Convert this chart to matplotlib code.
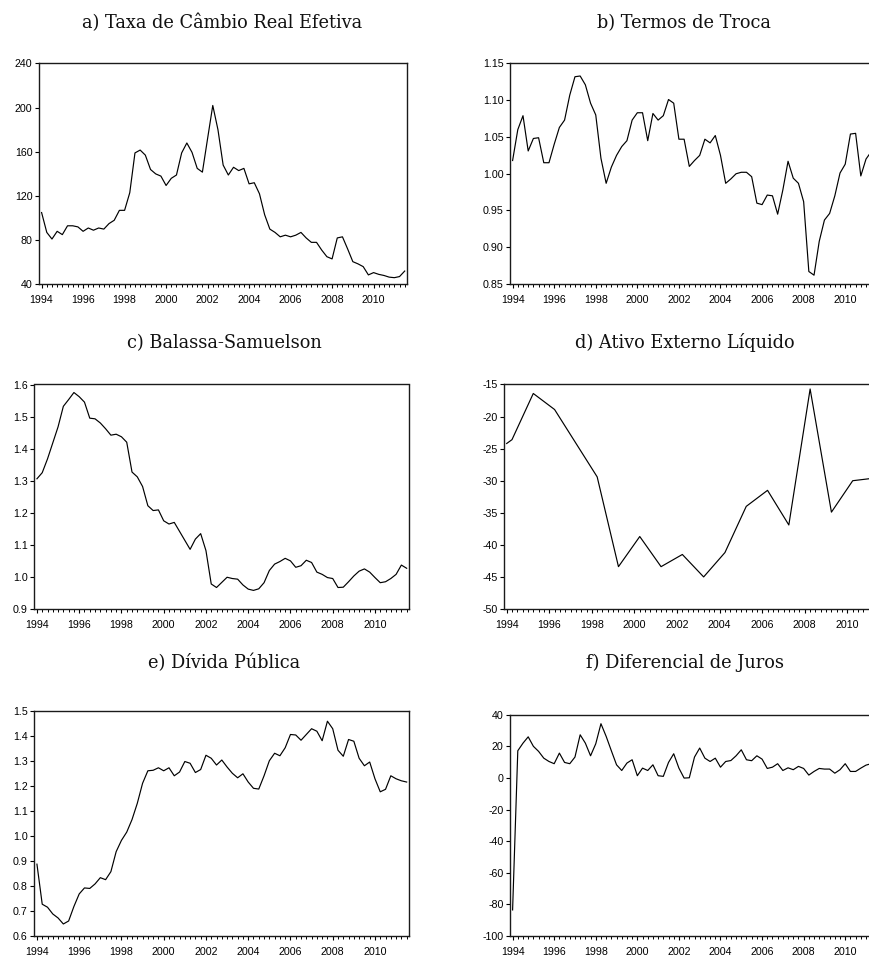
import numpy as np
import matplotlib
matplotlib.use("Agg")
import matplotlib.pyplot as plt
from matplotlib.ticker import FixedLocator, MultipleLocator, FormatStrFormatter

plt.rcParams["axes.unicode_minus"] = False

# Quarterly sample 1994Q1 - 2011Q3
START_YEAR = 1994
N_QUARTERS = 71

titles = [
    "a) Taxa de Câmbio Real Efetiva",
    "b) Termos de Troca",
    "c) Balassa-Samuelson",
    "d) Ativo Externo Líquido",
    "e) Dívida Pública",
    "f) Diferencial de Juros",
]

cambio_real = [
    105, 87, 81, 88, 85, 93, 93, 92, 88, 91, 89, 91, 90, 95, 98, 107, 107, 123,
    159, 161.6, 157, 144, 140, 138, 129.5, 136, 139, 159, 168, 159.5, 145, 141.6,
    172, 202, 180, 148, 139, 146, 143, 145, 131, 132, 122, 103, 90, 87, 83, 84.5,
    83, 84.5, 87, 82, 78, 78, 71, 65, 63, 82, 83, 72, 60.5, 58.5, 56, 48.5, 50.6,
    49, 48, 46.5, 46, 47, 52,
]

termos_troca = [
    1.018, 1.060, 1.079, 1.031, 1.048, 1.049, 1.015, 1.015, 1.040, 1.063, 1.073,
    1.107, 1.132, 1.133, 1.121, 1.096, 1.080, 1.021, 0.987, 1.009, 1.025, 1.037,
    1.045, 1.073, 1.083, 1.083, 1.045, 1.082, 1.073, 1.079, 1.101, 1.096, 1.047,
    1.047, 1.010, 1.018, 1.025, 1.047, 1.042, 1.052, 1.025, 0.987, 0.993, 1.000,
    1.002, 1.002, 0.996, 0.960, 0.958, 0.971, 0.970, 0.945, 0.978, 1.017, 0.994,
    0.987, 0.962, 0.867, 0.862, 0.908, 0.937, 0.946, 0.970, 1.001, 1.013, 1.054,
    1.055, 0.997, 1.020, 1.030, 1.035,
]

balassa_samuelson = [
    1.306, 1.325, 1.368, 1.418, 1.468, 1.532, 1.553, 1.575, 1.562, 1.545, 1.495,
    1.493, 1.480, 1.462, 1.442, 1.445, 1.437, 1.420, 1.327, 1.312, 1.282, 1.222,
    1.207, 1.209, 1.175, 1.165, 1.170, 1.142, 1.114, 1.086, 1.118, 1.135, 1.082,
    0.978, 0.967, 0.983, 0.999, 0.995, 0.993, 0.975, 0.962, 0.958, 0.963, 0.982,
    1.020, 1.040, 1.048, 1.058, 1.050, 1.030, 1.035, 1.052, 1.045, 1.015, 1.008,
    0.998, 0.995, 0.967, 0.968, 0.985, 1.003, 1.018, 1.025, 1.015, 0.998, 0.982,
    0.985, 0.995, 1.008, 1.037, 1.027,
]

# Net foreign assets: annual observations placed at the second quarter
ativo_quarters = [0, 1, 5, 9, 17, 21, 25, 29, 33, 37, 41, 45, 49, 53, 57, 61, 65, 69]
ativo_externo = [
    -24.2, -23.6, -16.4, -18.9, -29.4, -43.4, -38.7, -43.4, -41.5, -45.0, -41.2,
    -34.0, -31.5, -36.9, -15.7, -34.9, -30.0, -29.6,
]

divida_publica = [
    0.887, 0.727, 0.715, 0.688, 0.672, 0.648, 0.660, 0.718, 0.768, 0.792, 0.790,
    0.808, 0.833, 0.825, 0.857, 0.937, 0.982, 1.015, 1.065, 1.130, 1.210, 1.260,
    1.262, 1.272, 1.260, 1.272, 1.240, 1.255, 1.297, 1.290, 1.253, 1.265, 1.322,
    1.310, 1.283, 1.303, 1.275, 1.250, 1.232, 1.248, 1.215, 1.190, 1.187, 1.240,
    1.300, 1.330, 1.320, 1.352, 1.405, 1.403, 1.382, 1.405, 1.428, 1.418, 1.380,
    1.458, 1.428, 1.342, 1.318, 1.385, 1.378, 1.310, 1.280, 1.295, 1.228, 1.176,
    1.186, 1.240, 1.228, 1.220, 1.215,
]

diferencial_juros = [
    -83.5, 17.2, 22, 26, 20, 16.8, 12.5, 10.4, 9, 15.7, 9.8, 9, 13.2, 27.3, 22,
    14, 21.6, 34.3, 26.3, 17.2, 8.3, 4.7, 9.4, 11.5, 1.4, 6.2, 4.7, 8.3, 1.4, 1,
    9.8, 15.3, 6.2, -0.1, 0.1, 13.2, 18.9, 12.5, 10.4, 12.5, 6.8, 10.4, 11, 14,
    17.8, 11.5, 10.9, 14, 11.9, 6, 6.8, 9, 4.7, 6.4, 5.2, 7.3, 6, 1.8, 4.1, 6,
    5.6, 5.6, 3, 5.2, 9, 4.1, 4.1, 6.2, 8.1, 9, 9,
]

y_ranges = [(40, 240, 40, "%d"), (0.85, 1.15, 0.05, "%.2f"), (0.9, 1.6, 0.1, "%.1f"),
            (-50, -15, 5, "%d"), (0.6, 1.5, 0.1, "%.1f"), (-100, 40, 20, "%d")]

# axes boxes in pixels: left, right, top, bottom
W, H = 870, 955
boxes = [
    (39.0, 407.3, 63.5, 284.3),
    (510.0, 879.0, 63.5, 284.0),
    (34.3, 409.3, 384.5, 609.0),
    (504.0, 882.0, 384.5, 609.0),
    (34.3, 409.3, 710.7, 936.0),
    (510.0, 879.0, 714.7, 936.0),
]
# title centre x and baseline y, in pixels
title_pos = [(222, 28), (684, 28), (224, 348), (685, 348), (224, 668), (685, 668)]

t = START_YEAR + np.arange(N_QUARTERS) / 4.0
series = [
    (t, cambio_real),
    (t, termos_troca),
    (t, balassa_samuelson),
    (START_YEAR + np.array(ativo_quarters) / 4.0, ativo_externo),
    (t, divida_publica),
    (t, diferencial_juros),
]

fig = plt.figure(figsize=(W / 100, H / 100), dpi=100)

for k in range(6):
    L, R, T, B = boxes[k]
    ax = fig.add_axes([L / W, 1 - B / H, (R - L) / W, (B - T) / H])
    x, y = series[k]
    ax.plot(x, y, color="black", lw=0.85)
    ax.set_xlim(START_YEAR - 0.125, START_YEAR + (N_QUARTERS - 0.5) / 4.0)
    lo, hi, step, fmt = y_ranges[k]
    ax.set_ylim(lo, hi)
    ax.yaxis.set_major_locator(MultipleLocator(step))
    ax.yaxis.set_major_formatter(FormatStrFormatter(fmt))
    ax.xaxis.set_major_locator(FixedLocator(np.arange(1994, 2012, 2)))
    ax.xaxis.set_minor_locator(MultipleLocator(0.25))
    ax.xaxis.set_major_formatter(FormatStrFormatter("%d"))
    for s in ax.spines.values():
        s.set_linewidth(1.0)
        s.set_color("#1a1a1a")
    ax.tick_params(axis="both", which="major", direction="out", length=3.2, width=0.8,
                   labelsize=7.7, color="black")
    ax.tick_params(axis="x", which="major", pad=4.5)
    ax.tick_params(axis="y", which="major", pad=1.5)
    ax.tick_params(axis="x", which="minor", direction="out", length=2.2, width=0.7)
    ax.tick_params(top=False, right=False)
    for lab in ax.get_xticklabels() + ax.get_yticklabels():
        lab.set_family("Liberation Sans")
    fig.text(title_pos[k][0] / W, 1 - title_pos[k][1] / H, titles[k],
             ha="center", va="baseline", family="DejaVu Serif", fontsize=12.8,
             color="#111111")

fig.savefig("out.png", dpi=100)
